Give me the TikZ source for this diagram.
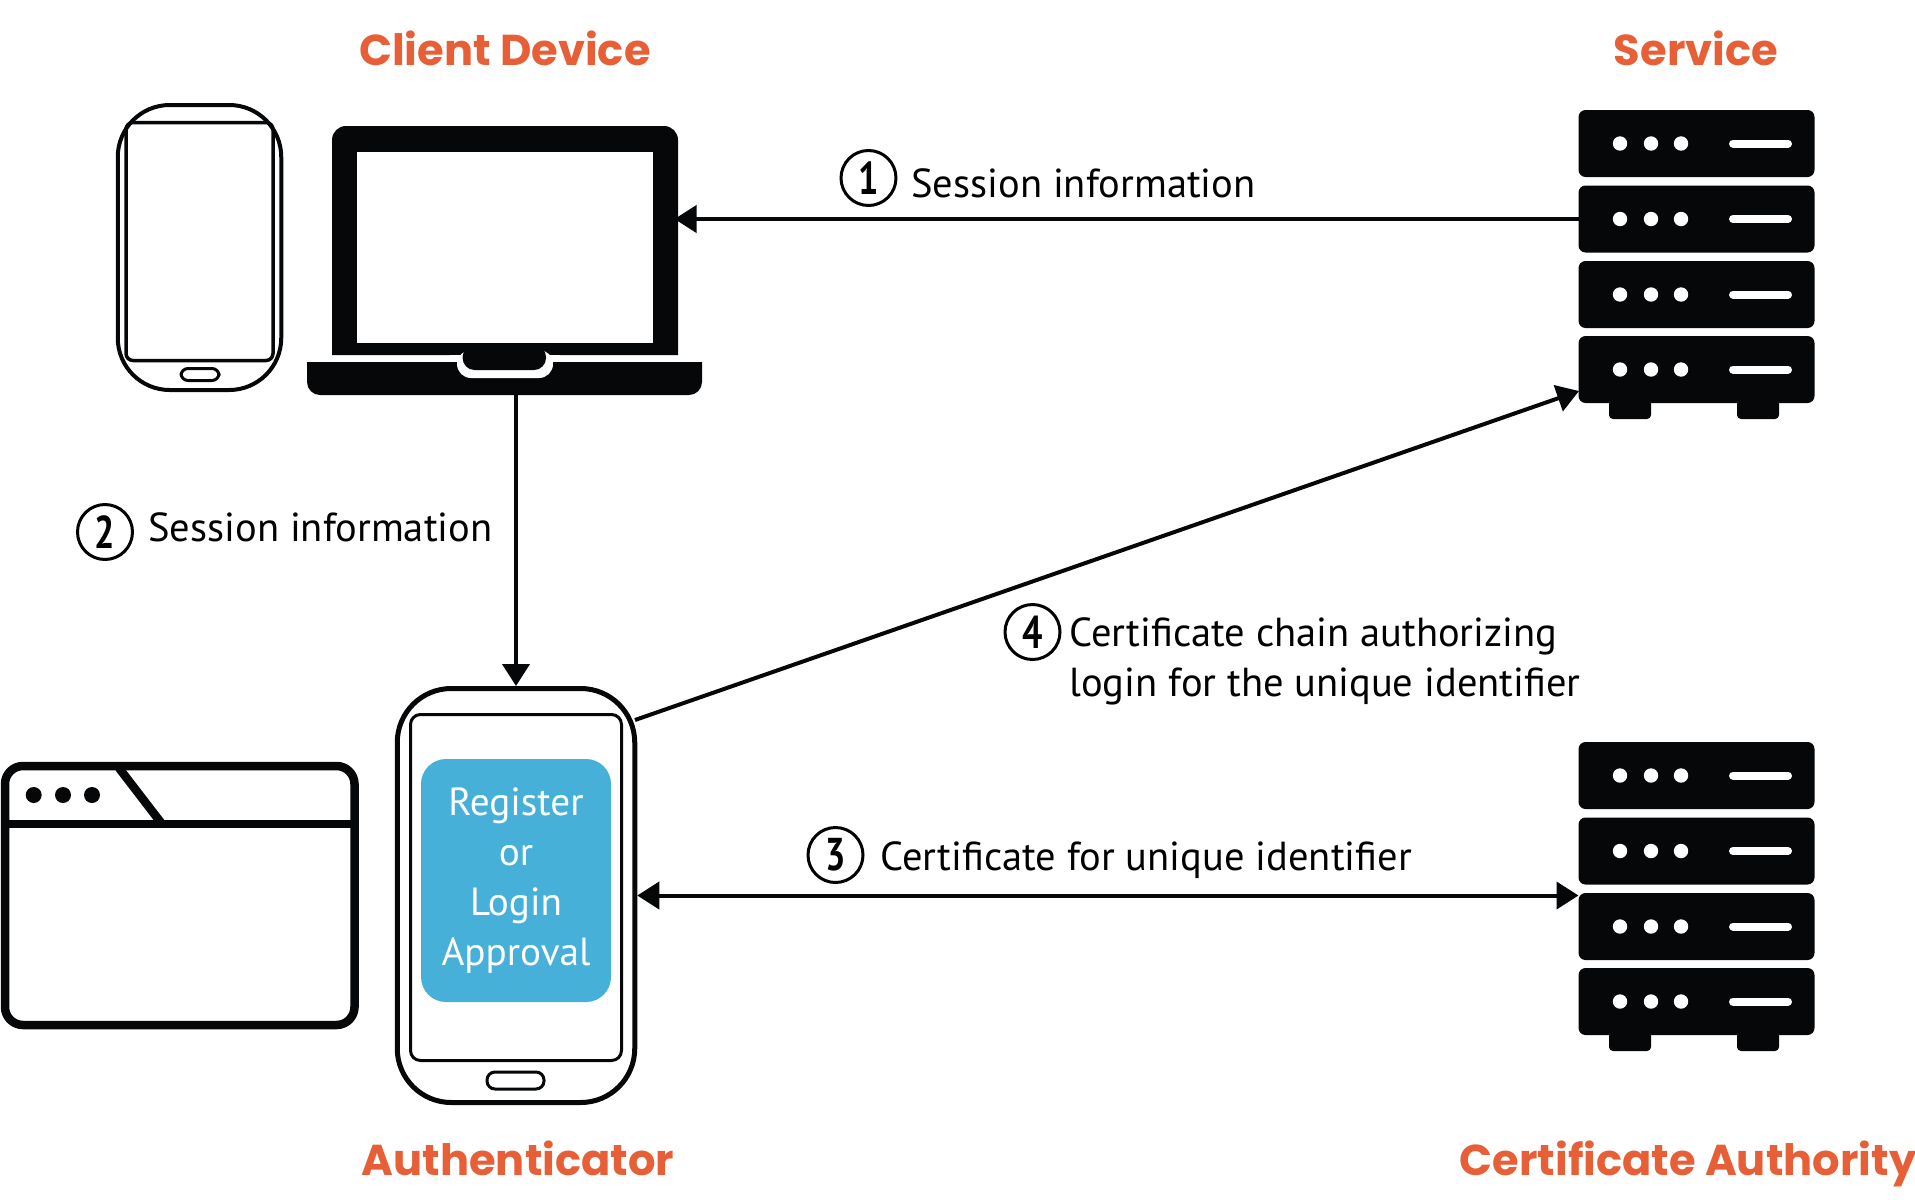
\documentclass[tikz,border=0pt]{standalone}
\usepackage{fontspec}
\setmainfont{PT Sans}
\newfontfamily\titlefont{Poppins}
\usetikzlibrary{arrows.meta}
\usetikzlibrary{positioning}
\definecolor{iconblack}{HTML}{060709}
\definecolor{titleorange}{HTML}{E65F37}
\definecolor{approvalblue}{HTML}{46B0D9}
\newcommand{\stepdigit}[1]{\scalebox{.78}[1]{#1}}
\tikzset{
  titlelabel/.style={font=\fontsize{21.6}{24}\titlefont\bfseries, text=titleorange, anchor=base, inner sep=0pt},
  steplabel/.style={font=\fontsize{20.25}{25}\selectfont, anchor=base west, inner sep=0pt},
  stepnum/.style={draw, circle, line width=1.5pt, minimum size=27.5pt, inner sep=0pt, font=\fontsize{23}{24}\selectfont\bfseries},
  serverrow/.style={fill=iconblack, rounded corners=3.5pt, minimum width=118pt, minimum height=33.5pt, inner sep=0pt, outer sep=0pt},
  conn/.style={line width=2pt, draw=iconblack, -{Triangle[length=11pt,width=13.5pt]}},
  connboth/.style={line width=2pt, draw=iconblack, {Triangle[length=11pt,width=13.5pt]}-{Triangle[length=11pt,width=13.5pt]}}
}
\newcommand{\serverstack}[2]{
  \foreach \i/\y in {1/143.5,2/219,3/294.5,4/369.5}{
    \node[serverrow] (#1\i) at (1696.5,{\y+#2}) {};
    \foreach \x in {1620,1651,1681}
      \fill[white] (\x,{\y+#2}) circle (3.6pt);
    \draw[white, line width=4pt, line cap=round] (1733,{\y+#2}) -- (1788,{\y+#2});
  }
  \fill[iconblack, rounded corners=2pt] (1609,{395+#2}) -- (1609,{419+#2}) -- (1651,{419+#2}) -- (1651,{395+#2}) -- cycle;
  \fill[iconblack, rounded corners=2pt] (1737,{395+#2}) -- (1737,{419+#2}) -- (1779,{419+#2}) -- (1779,{395+#2}) -- cycle;
}
\begin{document}
\begin{tikzpicture}[x=0.5pt,y=-0.5pt]
  \useasboundingbox (0,0) rectangle (1915,1199);

  % Small phone
  \node[draw=iconblack, line width=2pt, rounded corners=26pt, minimum width=81.75pt, minimum height=142.5pt, inner sep=0pt] (smallPhone) at (199.5,247.5) {};
  \node[draw=iconblack, line width=1.75pt, rounded corners=3.5pt, minimum width=73.5pt, minimum height=119pt, inner sep=0pt] (smallScreen) at (199.5,241.5) {};
  \node[draw=iconblack, line width=1.5pt, rounded corners=3.5pt, minimum width=19pt, minimum height=6pt, inner sep=0pt] (smallHome) at (200,374.5) {};

  % Laptop
  \fill[iconblack] (332,355) [rounded corners=7pt] -- (332,126) -- (678,126) [sharp corners] -- (678,355) -- cycle;
  \fill[white] (357,152) rectangle (652.5,343);
  \fill[iconblack] (307,362) -- (307,382) [rounded corners=6.5pt] -- (307,395) -- (702,395) [sharp corners] -- (702,362) -- cycle;
  \fill[white, rounded corners=7pt] (457,350) -- (457,378) -- (553,378) -- (553,350) -- cycle;
  \fill[white] (450,355) rectangle (560,362);
  \fill[iconblack, rounded corners=6pt] (462.6,345) -- (462.6,370) -- (546,370) -- (546,345) -- cycle;
  \coordinate (laptopEast) at (674.5,219);
  \coordinate (laptopSouth) at (516,395);

  % Window
  \draw[iconblack, line width=4.25pt, rounded corners=9pt] (5,766) rectangle (354.5,1025);
  \draw[iconblack, line width=4.25pt] (5,824) -- (354.5,824);
  \draw[iconblack, line width=4.25pt] (119,768) -- (162,824);
  \foreach \x in {33.7,63,92}
    \fill[iconblack] (\x,795) circle (4pt);

  % Authenticator
  \node[draw=iconblack, line width=2.5pt, rounded corners=27pt, minimum width=118.75pt, minimum height=207pt, inner sep=0pt] (authPhone) at (516,895.5) {};
  \node[draw=iconblack, line width=1.5pt, rounded corners=5pt, minimum width=105.5pt, minimum height=173pt, inner sep=0pt] (authScreen) at (516,887.5) {};
  \node[draw=iconblack, line width=1.5pt, rounded corners=4pt, minimum width=28.5pt, minimum height=8.5pt, inner sep=0pt] (authHome) at (515.5,1080.5) {};
  \node[fill=approvalblue, rounded corners=12.5pt, minimum width=95pt, minimum height=121.5pt, inner sep=0pt, text=white, align=center, font=\fontsize{19.6}{25}\selectfont] (approvalBox) at (516,880.5) {\vspace{-1pt}Register\\or\\Login\\Approval};

  % Servers
  \serverstack{service}{0}
  \serverstack{authority}{632}

  % Connectors
  \coordinate (authOut) at (635,720);
  \coordinate (serviceIn) at (1579,391);
  \draw[conn] (service2.west) -- (laptopEast);
  \draw[conn] (laptopSouth) -- (authPhone.north);
  \draw[conn] (authOut) -- (serviceIn);
  \draw[connboth] (authPhone.east) -- (authPhone.east -| authority3.west);

  % Titles
  \node[titlelabel] (clientTitle) at (505,65) {Client Device};
  \node[titlelabel] (serviceTitle) at (1696,65) {Service};
  \node[titlelabel] (authTitle) at (518,1175) {Authenticator};
  \node[titlelabel] (authorityTitle) at (1688,1175) {Certificate Authority};

  % Steps
  \node[stepnum] (stepOne) at (868.5,178) {\stepdigit{1}};
  \node[stepnum] (stepTwo) at (105,532) {\stepdigit{2}};
  \node[stepnum] (stepThree) at (835.5,855) {\stepdigit{3}};
  \node[stepnum] (stepFour) at (1032.5,632) {\stepdigit{4}};
  \node[steplabel] (sessionOne) at (911,197) {Session information};
  \node[steplabel] (sessionTwo) at (148,541) {Session information};
  \node[steplabel] (certUnique) at (880,870) {Certificate for unique identifier};
  \node[steplabel] (chainOne) at (1069,646) {Certificate chain authorizing};
  \node[steplabel] (chainTwo) at (1069,696) {login for the unique identifier};
\end{tikzpicture}
\end{document}
